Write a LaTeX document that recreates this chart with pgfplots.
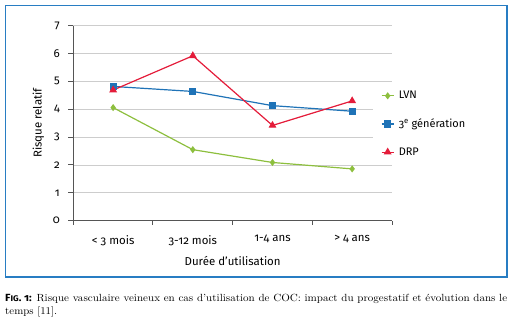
\documentclass[border=0pt]{standalone}
\usepackage{fontspec}
\setsansfont{Fira Sans}[Numbers=OldStyle]
\usepackage{pgfplots}
\pgfplotsset{compat=1.18}
\definecolor{cgreen}{RGB}{141,191,62}
\definecolor{cblue}{RGB}{31,115,183}
\definecolor{cred}{RGB}{228,28,58}
\definecolor{frameblue}{RGB}{40,125,195}
\definecolor{axgray}{RGB}{85,85,85}
\definecolor{gridgray}{RGB}{205,205,205}
\begin{document}
\begin{tikzpicture}[x=1bp,y=1bp]
\path[use as bounding box] (0,0) rectangle (513,323);
\draw[frameblue, line width=1.3bp] (5.5,46) rectangle (507,317.5);
\begin{axis}[
  at={(73.3bp,102.3bp)}, anchor=south west,
  scale only axis, width=318.7bp, height=195bp,
  xmin=-0.5, xmax=3.5, ymin=0, ymax=7,
  axis x line*=bottom, axis y line*=left,
  axis line style={-, draw=axgray, line width=1bp},
  ytick={0,...,7},
  ymajorgrids, grid style={draw=gridgray, line width=0.8bp},
  y tick style={draw=axgray, line width=1bp},
  tick align=outside, major tick length=5bp, minor tick length=4bp,
  xtick={0,1,2,3},
  xticklabels={{< 3 mois},{3-12 mois},{1-4 ans},{> 4 ans}},
  major x tick style={draw=none},
  minor xtick={-0.5,0.5,1.5,2.5,3.5},
  minor x tick style={draw=axgray, line width=1bp},
  /pgf/number format/assume math mode=true,
  tick label style={font=\sffamily\fontsize{11.5}{13}\selectfont},
  yticklabel style={xshift=-5bp},
  xticklabel style={yshift=-6bp},
  label style={font=\sffamily\fontsize{11.5}{13}\selectfont},
  xlabel={Durée d’utilisation},
  ylabel={Risque relatif},
  xlabel style={yshift=-4bp},
  ylabel style={yshift=2bp},
  legend style={at={(0.94,0.685)}, anchor=north west, draw=none, fill=white,
    font=\sffamily\fontsize{11}{13}\selectfont, inner xsep=8bp, inner ysep=2bp,
    row sep=14.5bp, column sep=2.5bp},
  legend cell align=left,
  legend image code/.code={
    \draw[mark repeat=2,mark phase=2,#1] plot coordinates {(0bp,0bp) (6bp,0bp) (12bp,0bp)};
  },
]
\addplot[cgreen, line width=1.2bp, mark=diamond*, mark size=2.6bp, mark options={solid, fill=cgreen}]
  coordinates {(0,4.06) (1,2.55) (2,2.09) (3,1.86)};
\addlegendentry{LVN}
\addplot[cblue, line width=1.2bp, mark=square*, mark size=3bp, mark options={solid, fill=cblue}]
  coordinates {(0,4.82) (1,4.64) (2,4.13) (3,3.93)};
\addlegendentry{3\textsuperscript{e} génération}
\addplot[cred, line width=1.2bp, mark=triangle*, mark size=3.4bp, mark options={solid, fill=cred}]
  coordinates {(0,4.69) (1,5.92) (2,3.42) (3,4.30)};
\addlegendentry{DRP}
\end{axis}
\node[anchor=base west, inner sep=0pt, font=\rmfamily\fontsize{10.4}{11}\selectfont] at (5,22)
  {\resizebox{502bp}{\height}{{\sffamily\bfseries F{\fontsize{8.2}{9}\selectfont IG}. 1:} Risque vasculaire veineux en cas d’utilisation de COC: impact du progestatif et évolution dans le}};
\node[anchor=base west, inner sep=0pt, font=\rmfamily\fontsize{10.4}{11}\selectfont] at (5,8.7)
  {\scalebox{1.05}[1]{temps [\oldstylenums{11}].}};
\end{tikzpicture}
\end{document}
